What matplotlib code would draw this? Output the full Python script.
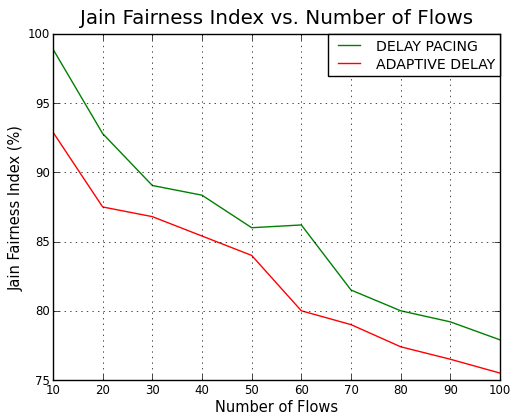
import matplotlib
matplotlib.use("Agg")
import matplotlib.pyplot as plt

plt.style.use("classic")

flows = [10, 20, 30, 40, 50, 60, 70, 80, 90, 100]
delay_pacing = [98.9, 92.8, 89.05, 88.35, 86.0, 86.2, 81.5, 80.0, 79.2, 77.9]
adaptive_delay = [92.9, 87.5, 86.8, 85.4, 84.0, 80.0, 79.0, 77.4, 76.5, 75.5]

fig = plt.figure(figsize=(5.11, 4.14), dpi=100, facecolor="white")
ax = fig.add_axes([0.1037, 0.0797, 0.8748, 0.836])

ax.plot(flows, delay_pacing, color="green", label="DELAY PACING")
ax.plot(flows, adaptive_delay, color="red", label="ADAPTIVE DELAY")

ax.set_xlim(10, 100)
ax.set_ylim(75, 100)
ax.set_xticks(flows)
ax.set_yticks([75, 80, 85, 90, 95, 100])
ax.grid(True)

ax.set_title("Jain Fairness Index vs. Number of Flows", fontsize=14.3, y=1.01)
ax.set_xlabel("Number of Flows", fontsize=10.5, labelpad=2)
ax.set_ylabel("Jain Fairness Index (%)", fontsize=10.5, labelpad=3)
ax.tick_params(labelsize=8.5, pad=2)
ax.legend(loc="upper right", fontsize=10.2, borderaxespad=0, handlelength=2.2,
          labelspacing=0.3, borderpad=0.35)

fig.savefig("out.png", dpi=100, facecolor="white")
